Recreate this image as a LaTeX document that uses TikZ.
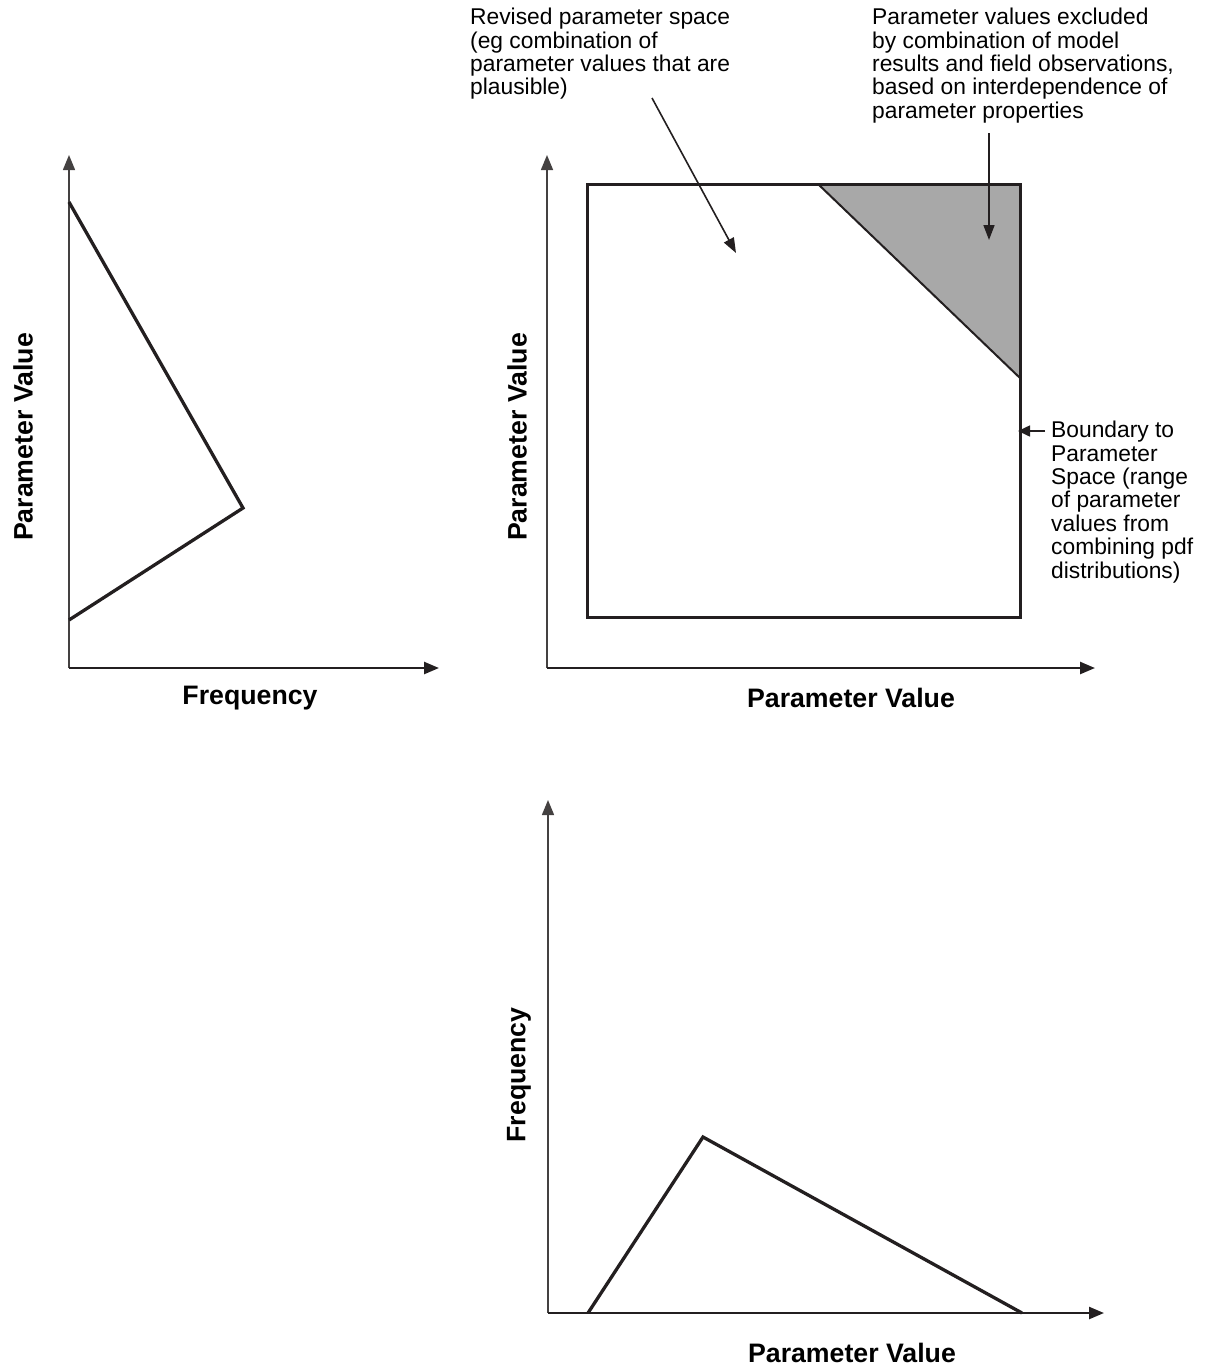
\documentclass[tikz,border=0pt]{standalone}
\usepackage{fontspec}
\setmainfont{Liberation Sans}
\usetikzlibrary{arrows.meta}
\definecolor{greyfill}{HTML}{A8A8A8}
\definecolor{ink}{HTML}{231F20}
\begin{document}
\begin{tikzpicture}[x=1pt,y=-1pt,
  vaxis/.style={draw=ink!85!white,line width=1.5pt,-{Triangle[length=15pt,width=12pt]}},
  haxis/.style={draw=ink,line width=2.5pt,-{Triangle[length=15pt,width=12pt]}},
  curve/.style={draw=ink,line width=3.3pt,line join=miter},
  box/.style={draw=ink,line width=3pt},
  pointer/.style={draw=ink,line width=1.6pt,-{Triangle[length=15pt,width=11pt]}},
  note/.style={font=\fontsize{22.8}{23.4}\selectfont,align=left,anchor=north west,inner sep=0pt},
  lab/.style={font=\fontsize{26.7}{30}\selectfont\bfseries,inner sep=0pt}]
\useasboundingbox (0,0) rectangle (1219,1369);
% ---------- left plot ----------
\coordinate (lo) at (69,668);
\coordinate (ly) at (69,155);
\coordinate (lx) at (439,668);
\draw[vaxis] (lo) -- (ly);
\draw[haxis] (lo) -- (lx);
\coordinate (l1) at (69,202);
\coordinate (l2) at (243,508);
\coordinate (l3) at (69,620);
\draw[curve] (l1) -- (l2) -- (l3);
\node[lab,rotate=90] (lyl) at (23,437) {Parameter Value};
\node[lab] (lxl) at (250,698) {Frequency};
% ---------- middle plot ----------
\coordinate (mo) at (547,668);
\coordinate (my) at (547,155);
\coordinate (mx) at (1095,668);
\draw[vaxis] (mo) -- (my);
\draw[haxis] (mo) -- (mx);
\coordinate (r1) at (587,184);
\coordinate (r2) at (1020,617);
\coordinate (t1) at (818,184);
\coordinate (t2) at (1020,184);
\coordinate (t3) at (1020,378);
\fill[greyfill] (t1) -- (t2) -- (t3) -- cycle;
\draw[ink,line width=2pt] (t1) -- (t3);
\draw[box] (r1) rectangle (r2);
\node[lab,rotate=90] (myl) at (517,437) {Parameter Value};
\node[lab] (mxl) at (851,698) {Parameter Value};
% notes
\node[note] (n1) at (470,8) {Revised parameter space\\(eg combination of\\parameter values that are\\plausible)};
\coordinate (a1s) at (652,98);
\coordinate (a1e) at (736,253);
\draw[pointer] (a1s) -- (a1e);
\node[note] (n2) at (872,8) {Parameter values excluded\\by combination of model\\results and field observations,\\based on interdependence of\\parameter properties};
\coordinate (a2s) at (989,133);
\coordinate (a2e) at (989,240);
\draw[pointer] (a2s) -- (a2e);
\node[note] (n3) at (1051,421) {Boundary to\\Parameter\\Space (range\\of parameter\\values from\\combining pdf\\distributions)};
\coordinate (a3s) at (1045,431);
\coordinate (a3e) at (1018,431);
\draw[pointer,-{Triangle[length=12pt,width=11pt]}] (a3s) -- (a3e);
% ---------- bottom plot ----------
\coordinate (bo) at (548,1313);
\coordinate (by) at (548,800);
\coordinate (bx) at (1104,1313);
\draw[vaxis] (bo) -- (by);
\draw[haxis] (bo) -- (bx);
\coordinate (b1) at (588,1313);
\coordinate (b2) at (703,1137);
\coordinate (b3) at (1022,1313);
\draw[curve] (b1) -- (b2) -- (b3);
\node[lab,rotate=90] (byl) at (519,1075) {Frequency};
\node[lab] (bxl) at (852,1353) {Parameter Value};
\end{tikzpicture}
\end{document}
